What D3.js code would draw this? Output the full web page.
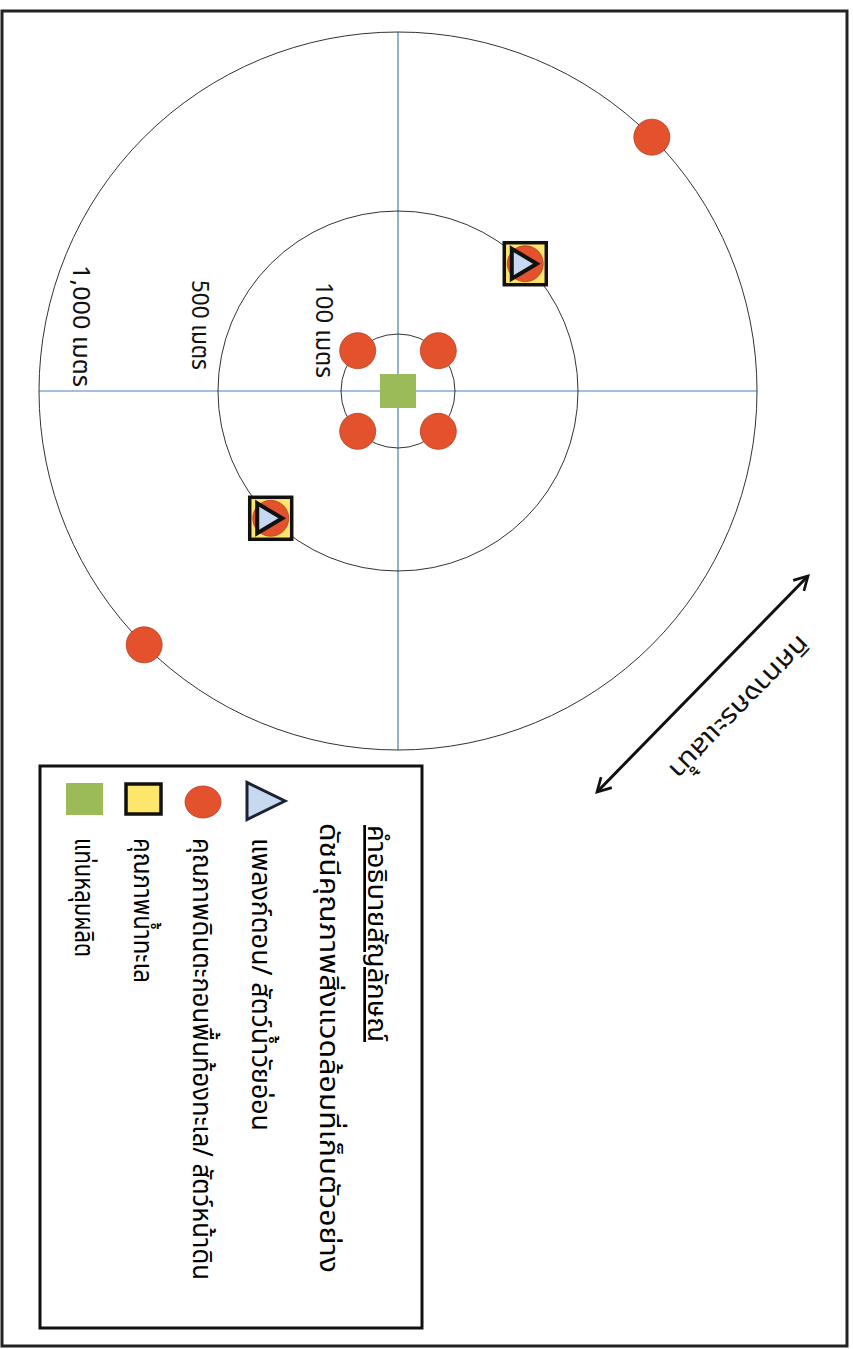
<!DOCTYPE html>
<html>
<head>
<meta charset="utf-8">
<script src="https://cdn.jsdelivr.net/npm/d3@7"></script>
<style>
  html, body { margin: 0; padding: 0; background: #fff; }
  text { font-family: "Noto Sans Thai", "Noto Sans", "Loma", "Garuda", "Tahoma", sans-serif; }
</style>
</head>
<body>
<div id="chart"></div>
<script>
// ring distances (metres) and their labels
var ringDistances = [100, 500, 1000];
var ringLabels = ["100 เมตร", "500 เมตร", "1,000 เมตร"];

// sampling stations: distance from the platform (m) and bearing (deg, 0 = up)
var sedimentDist = [100, 100, 100, 100, 1000, 1000];
var sedimentBearing = [45, 135, 225, 315, 315, 135];
var comboDist = [500, 500];
var comboBearing = [315, 135];

var legendTitle = "คำอธิบายสัญลักษณ์";
var legendSubtitle = "ดัชนีคุณภาพสิ่งแวดล้อมที่เก็บตัวอย่าง";
var legendKeys = ["plankton", "sediment", "water", "platform"];
var legendLabels = [
    "แพลงก์ตอน/ สัตว์น้ำวัยอ่อน",
    "คุณภาพดินตะกอนพื้นท้องทะเล/ สัตว์หน้าดิน",
    "คุณภาพน้ำทะเล",
    "แท่นหลุมผลิต"
];
var currentLabel = "ทิศทางกระแสน้ำ";

var RED = "#e4512d", YELLOW = "#fde66b", GREEN = "#9bbb59", LIGHTBLUE = "#c6d9f1", AXIS = "#4a7ebb";

var W = 853, H = 1349;
var svg = d3.select("#chart").append("svg")
    .attr("width", W).attr("height", H);

// the page is drawn landscape then turned a quarter clockwise
var g = svg.append("g").attr("transform", "translate(" + W + ",0) rotate(90)");

g.append("rect")
    .attr("x", 11).attr("y", 6).attr("width", 1335).attr("height", 845)
    .attr("fill", "none").attr("stroke", "#222").attr("stroke-width", 3);

var cx = 391, cy = 455;
var r = d3.scaleLinear().domain([0, 100, 500, 1000]).range([0, 57, 180, 359]);
var pos = function (dist, bearing) {
    var a = bearing * Math.PI / 180;
    return [cx + r(dist) * Math.sin(a), cy - r(dist) * Math.cos(a)];
};

var rmax = r(1000);
g.append("line").attr("x1", cx).attr("x2", cx).attr("y1", cy - rmax).attr("y2", cy + rmax)
    .attr("stroke", AXIS).attr("stroke-width", 1.2);
g.append("line").attr("x1", cx - rmax).attr("x2", cx + rmax).attr("y1", cy).attr("y2", cy)
    .attr("stroke", AXIS).attr("stroke-width", 1.2);

g.selectAll(".ring")
    .data(ringDistances)
    .enter()
    .append("circle")
    .attr("class", "ring")
    .attr("cx", cx).attr("cy", cy)
    .attr("r", function (d) { return r(d); })
    .attr("fill", "none").attr("stroke", "#333").attr("stroke-width", 1);

var labelOffset = [{ dx: -13, dy: 25, len: 96 }, { dx: -21, dy: 26, len: 90 }, { dx: -4, dy: -34, len: 122 }];
g.selectAll(".ringlabel")
    .data(ringDistances)
    .enter()
    .append("text")
    .attr("class", "ringlabel")
    .attr("x", function (d, i) { return cx + labelOffset[i].dx - labelOffset[i].len; })
    .attr("y", function (d, i) { return cy + r(d) + labelOffset[i].dy; })
    .attr("font-size", 24)
    .attr("textLength", function (d, i) { return labelOffset[i].len; })
    .attr("lengthAdjust", "spacingAndGlyphs")
    .attr("fill", "#111")
    .text(function (d, i) { return ringLabels[i]; });

// platform in the middle
g.append("rect")
    .attr("x", cx - 17).attr("y", cy - 18).attr("width", 34).attr("height", 36)
    .attr("fill", GREEN);

var triPath = function (x, y, w, h) {
    return "M" + x + "," + (y - h / 2) + "L" + (x + w / 2) + "," + (y + h / 2) + "L" + (x - w / 2) + "," + (y + h / 2) + "Z";
};

g.selectAll(".sed")
    .data(sedimentDist)
    .enter()
    .append("circle")
    .attr("class", "sed")
    .attr("cx", function (d, i) { return pos(d, sedimentBearing[i])[0]; })
    .attr("cy", function (d, i) { return pos(d, sedimentBearing[i])[1]; })
    .attr("r", 18)
    .attr("fill", RED).attr("stroke", "#b5401f").attr("stroke-width", 0.8);

var combo = g.selectAll(".combo")
    .data(comboDist)
    .enter()
    .append("g")
    .attr("class", "combo")
    .attr("transform", function (d, i) {
        var p = pos(d, comboBearing[i]);
        return "translate(" + p[0] + "," + p[1] + ")";
    });
combo.append("rect")
    .attr("x", -21).attr("y", -21).attr("width", 42).attr("height", 42)
    .attr("fill", YELLOW).attr("stroke", "#111").attr("stroke-width", 3.5);
combo.append("circle")
    .attr("r", 18).attr("fill", RED).attr("stroke", "#b5401f").attr("stroke-width", 0.8);
combo.append("path")
    .attr("d", triPath(0, 1, 30, 25))
    .attr("fill", LIGHTBLUE).attr("stroke", "#111").attr("stroke-width", 4)
    .attr("stroke-linejoin", "miter");

// current direction arrow
var defs = svg.append("defs");
defs.append("marker")
    .attr("id", "head")
    .attr("viewBox", "0 0 12 12")
    .attr("refX", 10).attr("refY", 6)
    .attr("markerWidth", 6).attr("markerHeight", 6)
    .attr("orient", "auto-start-reverse")
    .append("path")
    .attr("d", "M1,1 L10,6 L1,11")
    .attr("fill", "none").attr("stroke", "#111").attr("stroke-width", 1.8);

var a0 = [576, 45], a1 = [792, 256];
g.append("line")
    .attr("x1", a0[0]).attr("y1", a0[1]).attr("x2", a1[0]).attr("y2", a1[1])
    .attr("stroke", "#111").attr("stroke-width", 3)
    .attr("marker-start", "url(#head)").attr("marker-end", "url(#head)");
var ang = Math.atan2(a1[1] - a0[1], a1[0] - a0[0]) * 180 / Math.PI;
g.append("text")
    .attr("transform", "translate(634,54) rotate(" + ang + ")")
    .attr("font-size", 26)
    .attr("textLength", 188)
    .attr("lengthAdjust", "spacingAndGlyphs")
    .attr("fill", "#111")
    .text(currentLabel);

// legend
var lg = g.append("g").attr("transform", "translate(766,431)");
lg.append("rect")
    .attr("width", 562).attr("height", 382)
    .attr("fill", "#fff").attr("stroke", "#111").attr("stroke-width", 3);
lg.append("text")
    .attr("x", 59).attr("y", 54)
    .attr("font-size", 27)
    .attr("textLength", 217)
    .attr("lengthAdjust", "spacingAndGlyphs")
    .attr("text-decoration", "underline")
    .text(legendTitle);
lg.append("text")
    .attr("x", 57).attr("y", 102)
    .attr("font-size", 27)
    .attr("textLength", 450)
    .attr("lengthAdjust", "spacingAndGlyphs")
    .text(legendSubtitle);

var labelLen = [293, 442, 145, 119];
var rowY = d3.scalePoint().domain(legendKeys).range([160, 337]);
var row = lg.selectAll(".row")
    .data(legendKeys)
    .enter()
    .append("g")
    .attr("class", "row")
    .attr("transform", function (d) { return "translate(0," + rowY(d) + ")"; });
row.append("text")
    .attr("x", 72).attr("y", 10)
    .attr("font-size", 27)
    .attr("textLength", function (d, i) { return labelLen[i]; })
    .attr("lengthAdjust", "spacingAndGlyphs")
    .text(function (d, i) { return legendLabels[i]; });
row.each(function (d) {
    var s = d3.select(this);
    if (d === "plankton") {
        s.append("path").attr("d", triPath(35, -4, 37, 38))
            .attr("fill", LIGHTBLUE).attr("stroke", "#1b2233").attr("stroke-width", 3);
    } else if (d === "sediment") {
        s.append("ellipse").attr("cx", 36).attr("cy", 0).attr("rx", 16).attr("ry", 18)
            .attr("fill", RED).attr("stroke", "#b5401f").attr("stroke-width", 0.8);
    } else if (d === "water") {
        s.append("rect").attr("x", 18).attr("y", -17).attr("width", 30).attr("height", 35)
            .attr("fill", YELLOW).attr("stroke", "#111").attr("stroke-width", 3.5);
    } else {
        s.append("rect").attr("x", 17).attr("y", -18).attr("width", 32).attr("height", 37)
            .attr("fill", GREEN);
    }
});
</script>
</body>
</html>
